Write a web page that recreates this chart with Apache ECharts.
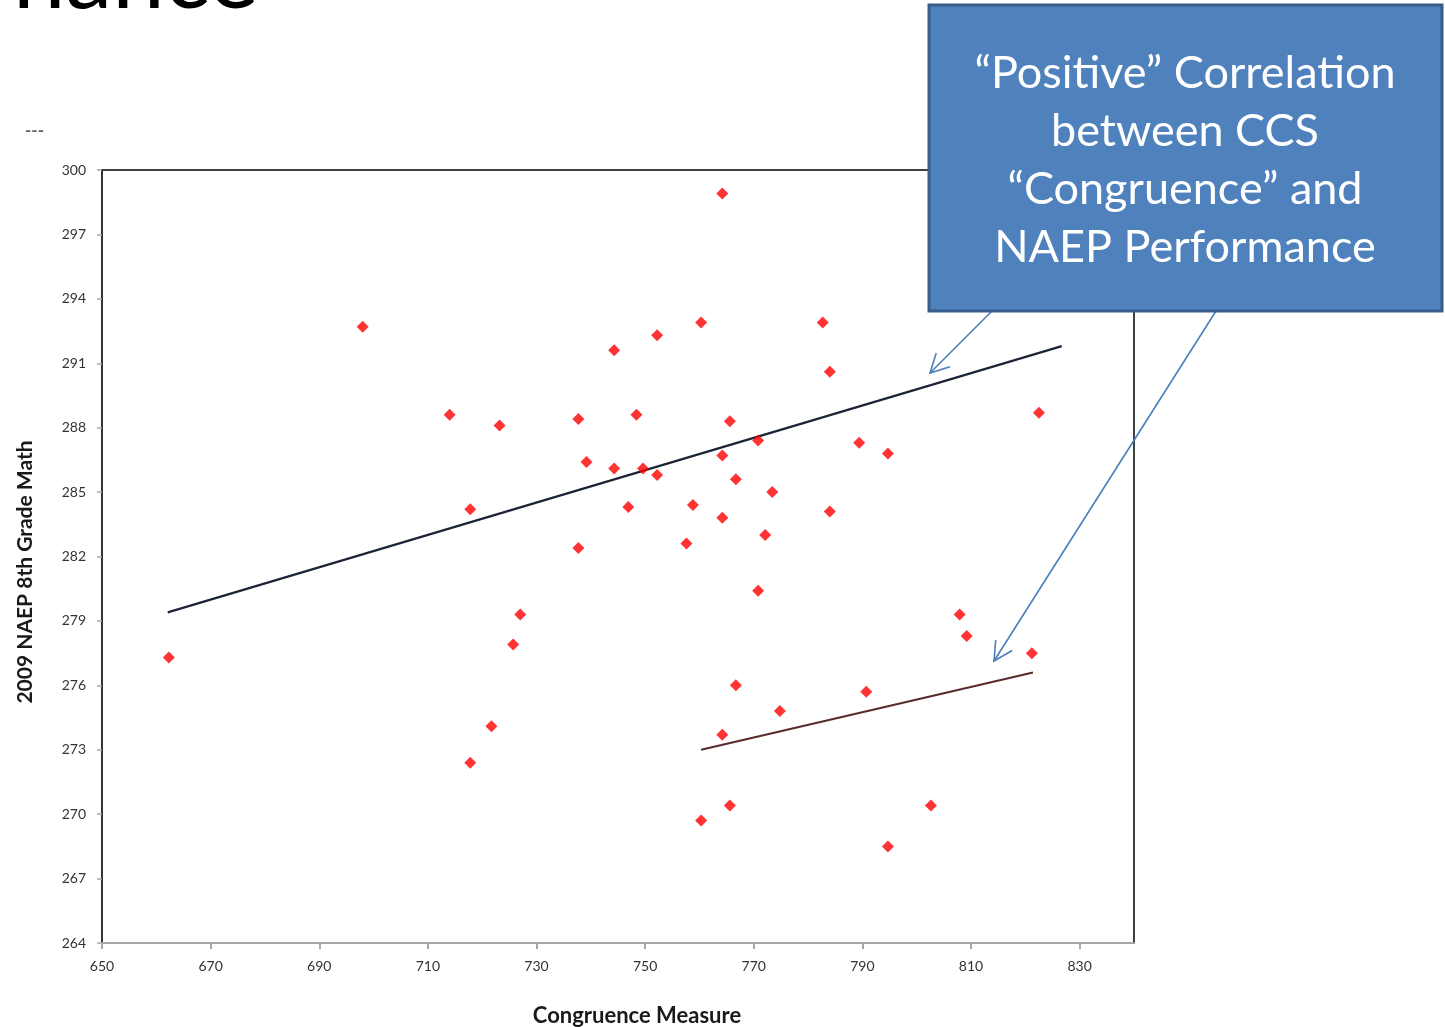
<!DOCTYPE html>
<html>
<head>
<meta charset="utf-8">
<script src="https://cdn.jsdelivr.net/npm/echarts@6/dist/echarts.min.js"></script>
<style>
html,body{margin:0;padding:0;background:#fff;}
#chart{width:1445px;height:1027px;}
</style>
</head>
<body>
<div id="chart"></div>
<script>
// Data
const congruence = [662.3, 698.0, 714.0, 723.2, 717.8, 737.7, 739.2, 737.7, 744.3, 748.4,
  744.3, 749.6, 752.2, 752.2, 746.9, 760.3, 764.2, 765.6, 764.2, 766.7,
  758.8, 764.2, 757.6, 770.8, 773.4, 772.1, 770.8, 782.7, 784.0, 789.4,
  784.0, 794.7, 822.5, 807.9, 809.2, 821.2, 725.7, 727.0, 721.7, 717.8,
  766.7, 774.8, 764.2, 790.7, 765.6, 760.3, 802.6, 794.7];
const naepMath = [277.3, 292.7, 288.6, 288.1, 284.2, 288.4, 286.4, 282.4, 291.6, 288.6,
  286.1, 286.1, 292.3, 285.8, 284.3, 292.9, 298.9, 288.3, 286.7, 285.6,
  284.4, 283.8, 282.6, 287.4, 285.0, 283.0, 280.4, 292.9, 290.6, 287.3,
  284.1, 286.8, 288.7, 279.3, 278.3, 277.5, 277.9, 279.3, 274.1, 272.4,
  276.0, 274.8, 273.7, 275.7, 270.4, 269.7, 270.4, 268.5];
const trendAllX = [662.1, 826.7];
const trendAllY = [279.4, 291.8];
const trendSubX = [760.3, 821.4];
const trendSubY = [273.0, 276.6];
const yAxisName = '2009 NAEP 8th Grade Math';
const xAxisName = 'Congruence Measure';
const calloutText = '\u201CPositive\u201D Correlation\nbetween CCS\n\u201CCongruence\u201D and\nNAEP Performance';

const chart = echarts.init(document.getElementById('chart'), null, {renderer: 'canvas'});
const FONT = 'Lato, "Open Sans", sans-serif';

function arrowHead(x1, y1, x2, y2, len, ang) {
  const a = Math.atan2(y1 - y2, x1 - x2);
  return [
    [x2 + len * Math.cos(a + ang), y2 + len * Math.sin(a + ang)],
    [x2, y2],
    [x2 + len * Math.cos(a - ang), y2 + len * Math.sin(a - ang)]
  ];
}
const arrowColor = '#4a7ebb';
const arrows = [
  [992, 311, 930, 373],
  [1216, 311, 994, 661]
];
const arrowGraphics = [];
arrows.forEach(function (a) {
  arrowGraphics.push({type: 'line', z: 50, shape: {x1: a[0], y1: a[1], x2: a[2], y2: a[3]}, style: {stroke: arrowColor, lineWidth: 1.6}});
  arrowGraphics.push({type: 'polyline', z: 50, shape: {points: arrowHead(a[0], a[1], a[2], a[3], 21, Math.PI / 6.5)}, style: {stroke: arrowColor, lineWidth: 1.6, fill: null}});
});

const option = {
  backgroundColor: '#ffffff',
  animation: false,
  grid: {left: 102, top: 170, right: 311, bottom: 84, show: true, borderColor: '#404040', borderWidth: 2, backgroundColor: 'transparent'},
  xAxis: {
    type: 'value', min: 650, max: 840, interval: 20,
    axisLine: {show: true, onZero: false, lineStyle: {color: '#a6a6a6', width: 2}},
    axisTick: {show: true, length: 6, lineStyle: {color: '#a6a6a6', width: 2}},
    splitLine: {show: false},
    axisLabel: {showMaxLabel: false, margin: 16, fontFamily: FONT, fontSize: 14, color: '#333333'}
  },
  yAxis: {
    type: 'value', min: 264, max: 300, interval: 3,
    axisLine: {show: true, onZero: false, lineStyle: {color: '#333333', width: 2}},
    axisTick: {show: true, length: 5, lineStyle: {color: '#a6a6a6', width: 1.5}},
    splitLine: {show: false},
    axisLabel: {margin: 16, fontFamily: FONT, fontSize: 14, color: '#333333'}
  },
  series: [
    {
      type: 'scatter', name: 'States',
      symbol: 'diamond', symbolSize: 12,
      itemStyle: {color: '#ff0000'},
      data: congruence.map(function (x, i) { return [x, naepMath[i]]; }),
      z: 5
    },
    {
      type: 'line', name: 'Trend (all)', symbol: 'none',
      lineStyle: {color: '#1c2536', width: 2.2},
      data: trendAllX.map(function (x, i) { return [x, trendAllY[i]]; }),
      z: 4
    },
    {
      type: 'line', name: 'Trend (subset)', symbol: 'none',
      lineStyle: {color: '#5a2b2b', width: 2.2},
      data: trendSubX.map(function (x, i) { return [x, trendSubY[i]]; }),
      z: 4
    }
  ],
  graphic: [
    {type: 'text', x: 13, y: -22, z: 60, style: {text: 'nance', fontFamily: FONT, fontSize: 94, fill: '#000', textVerticalAlign: 'middle', textAlign: 'left'}},
    {type: 'text', x: 25, y: 131, z: 60, style: {text: '---', fontFamily: FONT, fontSize: 17, fontWeight: 'bold', fill: '#666', textVerticalAlign: 'middle'}},
    {type: 'text', x: 25, y: 572, rotation: Math.PI / 2, z: 60, style: {text: yAxisName, fontFamily: FONT, fontSize: 21, fontWeight: 'bold', fill: '#1a1a1a', textAlign: 'center', textVerticalAlign: 'middle'}},
    {type: 'text', x: 637, y: 1016, z: 60, style: {text: xAxisName, fontFamily: FONT, fontSize: 22, fontWeight: 'bold', fill: '#1a1a1a', textAlign: 'center', textVerticalAlign: 'middle'}},
    {type: 'rect', z: 70, shape: {x: 929, y: 5, width: 513, height: 306}, style: {fill: '#4f81bd', stroke: '#385d8a', lineWidth: 3}},
    {type: 'text', x: 1185, y: 160, z: 71, style: {text: calloutText, fontFamily: FONT, fontSize: 45, lineHeight: 58, fill: '#ffffff', textAlign: 'center', textVerticalAlign: 'middle'}}
  ].concat(arrowGraphics)
};
chart.setOption(option);
</script>
</body>
</html>
